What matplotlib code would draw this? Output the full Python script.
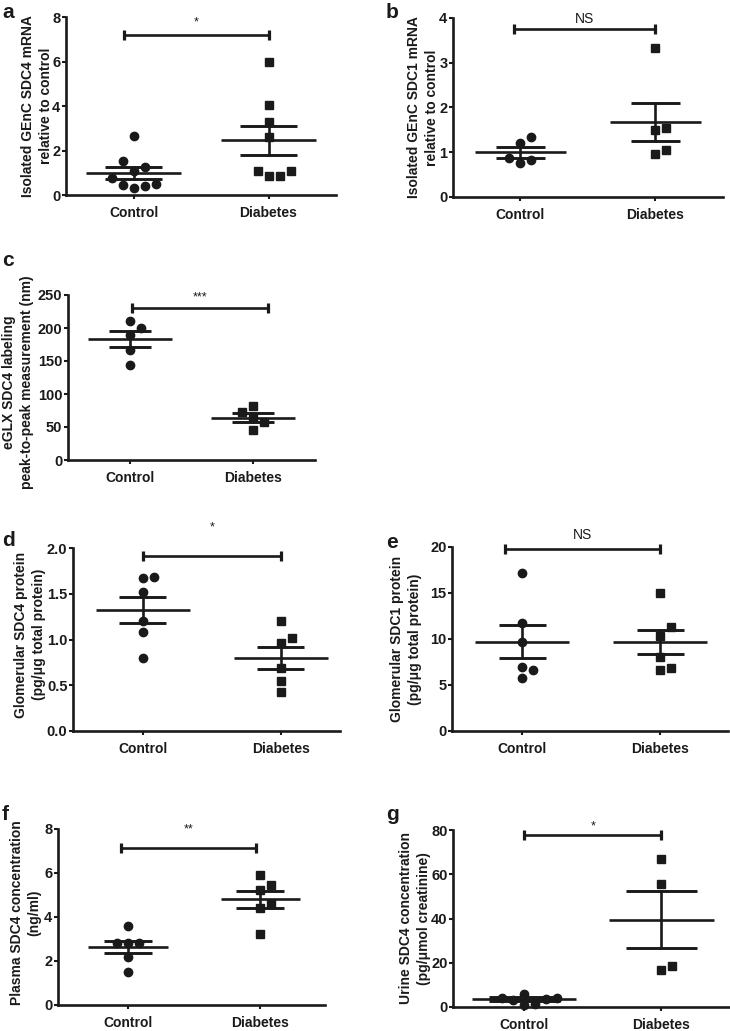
import numpy as np
import matplotlib
matplotlib.use("Agg")
import matplotlib.pyplot as plt

plt.rcParams['font.family'] = ['Liberation Sans', 'DejaVu Sans']

W, H = 730, 1031
INK = '#1a1a1a'

groups = ['Control', 'Diabetes']

# ---------------- data ----------------
a_control = [0.3, 0.4, 0.45, 0.5, 0.75, 1.1, 1.25, 1.55, 2.65]
a_diabetes = [0.85, 0.85, 1.08, 1.1, 2.6, 3.3, 4.05, 6.0]
a_mean = [0.98, 2.46]
a_sem = [0.28, 0.66]

b_control = [0.76, 0.83, 0.88, 1.2, 1.33]
b_diabetes = [0.95, 1.05, 1.5, 1.55, 3.32]
b_mean = [1.0, 1.67]
b_sem = [0.12, 0.42]

c_control = [144, 167, 190, 200, 210]
c_diabetes = [45, 58, 65, 72, 82]
c_mean = [183, 64]
c_sem = [12, 7]

d_control = [0.8, 1.08, 1.2, 1.52, 1.67, 1.68]
d_diabetes = [0.43, 0.55, 0.69, 0.96, 1.02, 1.2]
d_mean = [1.32, 0.80]
d_sem = [0.145, 0.12]

e_control = [5.8, 6.6, 7.0, 9.7, 11.7, 17.2]
e_diabetes = [6.6, 6.8, 8.0, 10.3, 11.3, 15.0]
e_mean = [9.7, 9.7]
e_sem = [1.8, 1.3]

f_control = [1.5, 2.2, 2.8, 2.8, 2.8, 3.6]
f_diabetes = [3.25, 4.4, 4.6, 5.25, 5.45, 5.9]
f_mean = [2.65, 4.8]
f_sem = [0.28, 0.39]

g_control = [1.0, 1.3, 3.2, 3.5, 3.9, 4.0, 6.0]
g_diabetes = [16.5, 18.5, 55.5, 67.0]
g_mean = [3.5, 39.5]
g_sem = [0.8, 13.0]

sig_labels = ['*', 'NS', '***', '*', 'NS', '**', '*']
bracket_y = [7.2, 3.75, 230, 1.91, 19.8, 7.14, 77.7]
sig_text_y = [7.75, 3.98, 246, 2.22, 21.3, 8.0, 81.8]

ylabels = [
    'Isolated GEnC SDC4 mRNA\nrelative to control',
    'Isolated GEnC SDC1 mRNA\nrelative to control',
    'eGLX SDC4 labeling\npeak-to-peak measurement (nm)',
    'Glomerular SDC4 protein\n(pg/\u03bcg total protein)',
    'Glomerular SDC1 protein\n(pg/\u03bcg total protein)',
    'Plasma SDC4 concentration\n(ng/ml)',
    'Urine SDC4 concentration\n(pg/\u03bcmol creatinine)',
]
yticks = [
    [0, 2, 4, 6, 8],
    [0, 1, 2, 3, 4],
    [0, 50, 100, 150, 200, 250],
    [0.0, 0.5, 1.0, 1.5, 2.0],
    [0, 5, 10, 15, 20],
    [0, 2, 4, 6, 8],
    [0, 20, 40, 60, 80],
]
panel_letters = ['a', 'b', 'c', 'd', 'e', 'f', 'g']

# ---------------- layout (pixels) ----------------
# left, right, top, bottom of each axes
boxes = [
    (66, 336, 17, 195),
    (453, 723, 18, 197),
    (68, 315, 295, 460),
    (73, 340, 548, 731),
    (452, 728, 547, 731),
    (58, 325, 829, 1005),
    (453, 730, 830, 1007),
]
xlims = [(-0.5, 1.5), (-0.5, 1.5), (-0.5, 1.5), (-0.507, 1.43),
         (-0.507, 1.49), (-0.53, 1.49), (-0.52, 1.5)]
ylabel_x = [37, 423, 18, 30, 406, 26, 415]
ylabel_dy = [0, 0, 5, -5, 0, -4, 0]
letter_pos = [(2, 13), (386, 13), (2, 261), (2, 540), (386, 542), (2, 814), (386, 815)]
bracket_x = [(-0.07, 1.0), (-0.05, 1.0), (0.02, 1.12), (0.0, 1.0),
             (-0.12, 1.0), (-0.05, 0.97), (0.0, 1.0)]
mean_half = [0.35, 0.34, 0.34, 0.34, 0.34, 0.3, 0.38]
cap_half = [0.21, 0.18, 0.17, 0.17, 0.17, 0.18, 0.26]

datasets = [
    (a_control, a_diabetes, a_mean, a_sem),
    (b_control, b_diabetes, b_mean, b_sem),
    (c_control, c_diabetes, c_mean, c_sem),
    (d_control, d_diabetes, d_mean, d_sem),
    (e_control, e_diabetes, e_mean, e_sem),
    (f_control, f_diabetes, f_mean, f_sem),
    (g_control, g_diabetes, g_mean, g_sem),
]

fig = plt.figure(figsize=(W / 100, H / 100), dpi=100)


def swarm_x(ax, xc, vals, step_px=11.0, dmin=10.5):
    """Simple beeswarm: offsets in pixel columns to avoid overlap."""
    trans = ax.transData
    inv = trans.inverted()
    order = np.argsort(vals, kind='stable')
    placed = []
    xs = np.zeros(len(vals))
    for i in order:
        x0, y0 = trans.transform((xc, vals[i]))
        chosen = x0
        for k in [0, 1, -1, 2, -2, 3, -3, 4, -4]:
            xp = x0 + k * step_px
            if all(np.hypot(xp - px, y0 - py) >= dmin for px, py in placed):
                chosen = xp
                break
        placed.append((chosen, y0))
        xs[i] = inv.transform((chosen, y0))[0]
    return xs


for i, (ctrl, diab, mean, sem) in enumerate(datasets):
    l, r, t, b = boxes[i]
    ax = fig.add_axes([l / W, 1 - b / H, (r - l) / W, (b - t) / H])
    yt = yticks[i]
    ax.set_xlim(*xlims[i])
    ax.set_ylim(yt[0], yt[-1])
    for s in ['top', 'right']:
        ax.spines[s].set_visible(False)
    for s in ['left', 'bottom']:
        ax.spines[s].set_linewidth(1.9)
        ax.spines[s].set_color(INK)
        ax.spines[s].set_capstyle('projecting')
    ax.set_xticks([0, 1])
    ax.set_xticklabels(groups, fontsize=10, fontweight='bold', color=INK)
    ax.set_yticks(yt)
    if i == 3:
        ax.set_yticklabels(['%.1f' % v for v in yt])
    else:
        ax.set_yticklabels([str(v) for v in yt])
    for lab in ax.get_yticklabels():
        lab.set_fontsize(10.5)
        lab.set_fontweight('bold')
        lab.set_color(INK)
    ax.tick_params(axis='both', direction='out', length=3, width=1.5, color=INK)
    ax.tick_params(axis='y', pad=1)
    ax.tick_params(axis='x', pad=5)
    ax.patch.set_alpha(0)

    # points
    for gi, (vals, mk, ms) in enumerate([(ctrl, 'o', 6.0), (diab, 's', 5.4)]):
        xs = swarm_x(ax, gi, vals)
        ax.plot(xs, vals, linestyle='none', marker=mk, ms=ms, color=INK,
                mec=INK, zorder=3, clip_on=False)

    # mean and SEM
    for gi in range(2):
        m, se = mean[gi], sem[gi]
        ax.plot([gi - mean_half[i], gi + mean_half[i]], [m, m], color=INK, lw=1.9,
                solid_capstyle='butt', zorder=4)
        ax.plot([gi, gi], [m - se, m + se], color=INK, lw=1.9, zorder=4)
        for yy in (m - se, m + se):
            ax.plot([gi - cap_half[i], gi + cap_half[i]], [yy, yy], color=INK, lw=2.1,
                    solid_capstyle='butt', zorder=4)

    # significance bracket
    yrange = yt[-1] - yt[0]
    tick_d = 5.0 * yrange / (b - t)
    x0, x1 = bracket_x[i]
    by = bracket_y[i]
    ax.plot([x0, x1], [by, by], color=INK, lw=1.9, clip_on=False, solid_capstyle='butt')
    for xx in (x0, x1):
        ax.plot([xx, xx], [by - tick_d, by + tick_d], color=INK, lw=2.3,
                clip_on=False, solid_capstyle='butt')
    lab = sig_labels[i]
    if lab == 'NS':
        ax.text((x0 + x1) / 2, sig_text_y[i], lab, ha='center', va='center',
                fontsize=10, color=INK, clip_on=False)
    else:
        ax.text((x0 + x1) / 2, sig_text_y[i], lab, ha='center', va='center',
                fontsize=9, color=INK, clip_on=False)

    # y-label
    fig.text(ylabel_x[i] / W, 1 - ((t + b) / 2 + ylabel_dy[i]) / H, ylabels[i],
             rotation=90, ha='center', va='center', multialignment='center',
             fontsize=10, fontweight='bold', color=INK, linespacing=1.3)

    # panel letter
    lx, ly = letter_pos[i]
    fig.text(lx / W, 1 - ly / H, panel_letters[i], ha='left', va='center',
             fontsize=15, fontweight='bold', color=INK)

fig.savefig('out.png', dpi=100)
